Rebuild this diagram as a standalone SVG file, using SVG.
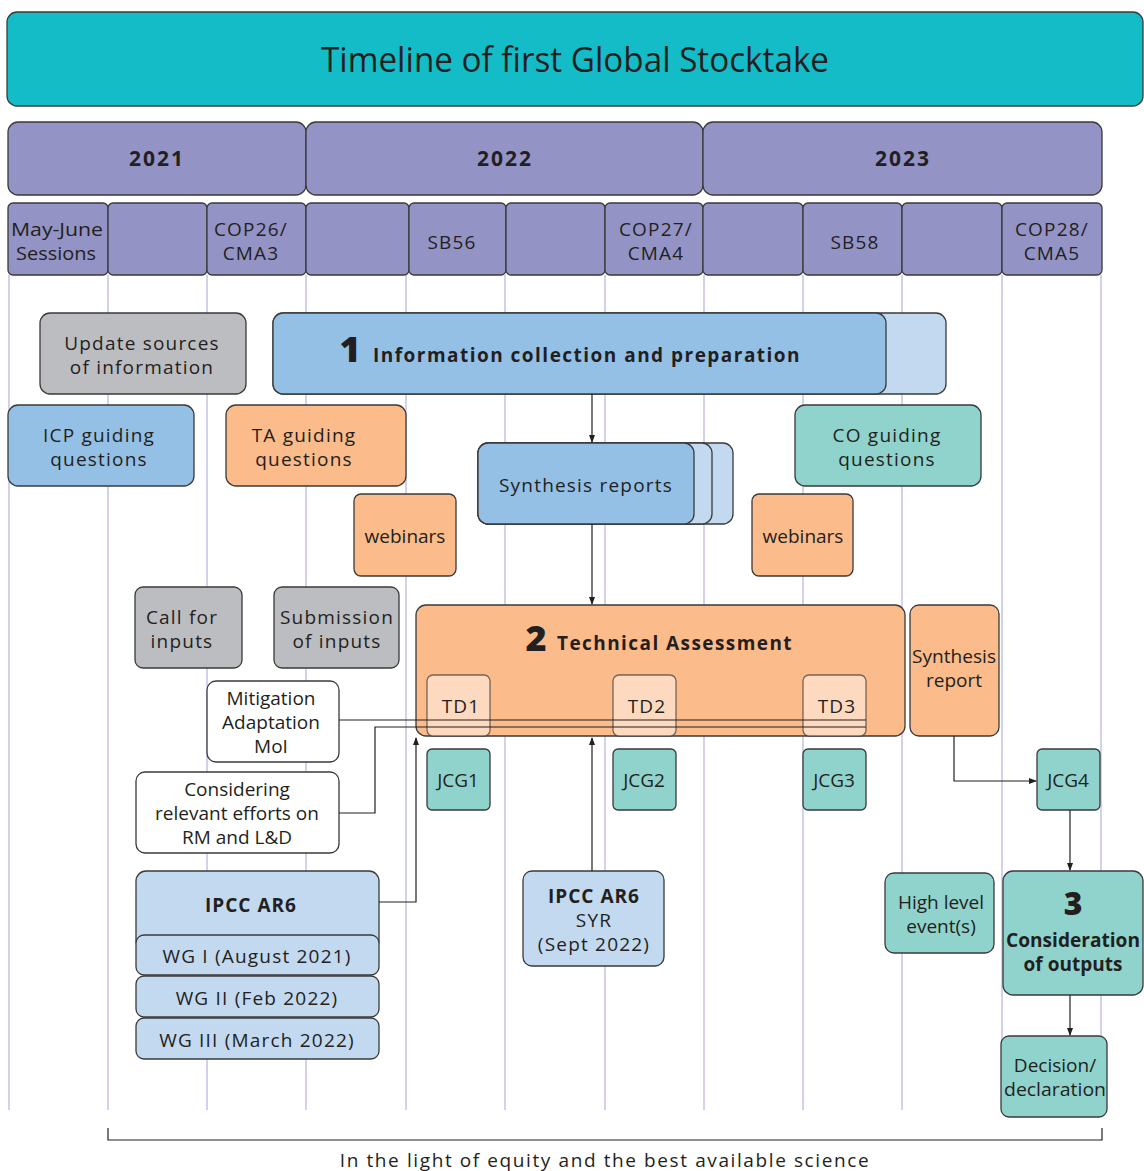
<svg xmlns="http://www.w3.org/2000/svg" width="1144" height="1171" viewBox="0 0 1144 1171">
<defs>
<marker id="ah" markerWidth="8" markerHeight="8" refX="7" refY="4" orient="auto" markerUnits="userSpaceOnUse">
<path d="M0,1 L8,4 L0,7 Z" fill="#231f20"/>
</marker>
<style>
.b{stroke:#3a3a3a;stroke-width:1.3}
.title{fill:#14bcc8}
.yr{fill:#9393c6}
.gray{fill:#bcbdc0}
.blue{fill:#94c0e6}
.lblue{fill:#c2d9f0}
.orange{fill:#fbbb8a}
.lorange{fill:#fddabf}
.teal{fill:#8fd3cc}
.white{fill:#ffffff}
.grid{stroke:#b4b4de;stroke-width:1.2}
text{font-family:"Open Sans","Noto Sans",sans-serif;fill:#231f20;text-anchor:middle}
.t19{font-size:19px;letter-spacing:1.2px}
.t19n{font-size:19px}
.yrt{font-size:21px;font-weight:bold;letter-spacing:2px}
.bold{font-weight:bold}
.con{stroke:#231f20;stroke-width:1.2;fill:none}
</style>
</defs>

<!-- grid lines -->
<g id="grid">
<line class="grid" x1="9" y1="275" x2="9" y2="1110"/>
<line class="grid" x1="108" y1="275" x2="108" y2="1110"/>
<line class="grid" x1="207" y1="275" x2="207" y2="1110"/>
<line class="grid" x1="306" y1="275" x2="306" y2="1110"/>
<line class="grid" x1="406" y1="275" x2="406" y2="1110"/>
<line class="grid" x1="505" y1="275" x2="505" y2="1110"/>
<line class="grid" x1="605" y1="275" x2="605" y2="1110"/>
<line class="grid" x1="704" y1="275" x2="704" y2="1110"/>
<line class="grid" x1="803" y1="275" x2="803" y2="1110"/>
<line class="grid" x1="902" y1="275" x2="902" y2="1110"/>
<line class="grid" x1="1002" y1="275" x2="1002" y2="1110"/>
<line class="grid" x1="1101" y1="275" x2="1101" y2="1110"/>
</g>

<g id="title">
<rect class="title b" x="7" y="12" width="1136" height="94" rx="10"/>
<text x="575" y="72" style="font-size:35px" textLength="508" lengthAdjust="spacingAndGlyphs">Timeline of first Global Stocktake</text>
</g>

<g id="years">
<rect class="yr b" x="8" y="122" width="298" height="73" rx="10"/>
<rect class="yr b" x="306" y="122" width="397" height="73" rx="10"/>
<rect class="yr b" x="703" y="122" width="399" height="73" rx="10"/>
<text class="yrt" x="157" y="166">2021</text>
<text class="yrt" x="505" y="166">2022</text>
<text class="yrt" x="903" y="166">2023</text>
</g>

<g id="months">
<rect class="yr b" x="8" y="203" width="100" height="72" rx="5"/>
<rect class="yr b" x="108" y="203" width="99" height="72" rx="5"/>
<rect class="yr b" x="207" y="203" width="99" height="72" rx="5"/>
<rect class="yr b" x="306" y="203" width="103" height="72" rx="5"/>
<rect class="yr b" x="409" y="203" width="97" height="72" rx="5"/>
<rect class="yr b" x="506" y="203" width="99" height="72" rx="5"/>
<rect class="yr b" x="605" y="203" width="98" height="72" rx="5"/>
<rect class="yr b" x="703" y="203" width="100" height="72" rx="5"/>
<rect class="yr b" x="803" y="203" width="99" height="72" rx="5"/>
<rect class="yr b" x="902" y="203" width="100" height="72" rx="5"/>
<rect class="yr b" x="1002" y="203" width="100" height="72" rx="5"/>
<text class="t19n" x="57" y="236" textLength="92" lengthAdjust="spacingAndGlyphs">May-June</text>
<text class="t19n" x="56" y="260" textLength="80" lengthAdjust="spacingAndGlyphs">Sessions</text>
<text class="t19" x="251" y="236">COP26/</text>
<text class="t19" x="251" y="260">CMA3</text>
<text class="t19" x="452" y="249">SB56</text>
<text class="t19" x="656" y="236">COP27/</text>
<text class="t19" x="656" y="260">CMA4</text>
<text class="t19" x="855" y="249">SB58</text>
<text class="t19" x="1052" y="236">COP28/</text>
<text class="t19" x="1052" y="260">CMA5</text>
</g>

<g id="update-sources">
<rect class="gray b" x="40" y="313" width="206" height="81" rx="10"/>
<text class="t19" x="142" y="350">Update sources</text>
<text class="t19" x="142" y="374">of information</text>
</g>

<g id="info-collection">
<rect class="lblue b" x="273" y="313" width="673" height="81" rx="10"/>
<rect class="blue b" x="273" y="313" width="613" height="81" rx="10"/>
<text x="350" y="362" style="font-size:36px;font-weight:900">1</text>
<text x="587" y="362" class="bold" style="font-size:19px;letter-spacing:1.4px" textLength="428" lengthAdjust="spacing">Information collection and preparation</text>
</g>

<g id="icp-guiding">
<rect class="blue b" x="8" y="405" width="186" height="81" rx="10"/>
<text class="t19" x="99" y="442">ICP guiding</text>
<text class="t19" x="99" y="466">questions</text>
</g>

<g id="ta-guiding">
<rect class="orange b" x="226" y="405" width="180" height="81" rx="10"/>
<text class="t19" x="304" y="442">TA guiding</text>
<text class="t19" x="304" y="466">questions</text>
</g>

<g id="co-guiding">
<rect class="teal b" x="795" y="405" width="186" height="81" rx="10"/>
<text class="t19" x="887" y="442">CO guiding</text>
<text class="t19" x="887" y="466">questions</text>
</g>

<g id="synthesis-reports">
<rect class="lblue b" x="478" y="443" width="255" height="81" rx="10"/>
<rect class="lblue b" x="478" y="443" width="234" height="81" rx="10"/>
<rect class="blue b" x="478" y="443" width="216" height="81" rx="10"/>
<text class="t19" x="586" y="492">Synthesis reports</text>
</g>

<g id="webinars-1">
<rect class="orange b" x="354" y="494" width="102" height="82" rx="7"/>
<text class="t19n" x="405" y="543">webinars</text>
</g>

<g id="webinars-2">
<rect class="orange b" x="752" y="494" width="101" height="82" rx="7"/>
<text class="t19n" x="803" y="543">webinars</text>
</g>

<g id="call-for-inputs">
<rect class="gray b" x="135" y="587" width="107" height="81" rx="8"/>
<text class="t19" x="182" y="624">Call for</text>
<text class="t19" x="182" y="648">inputs</text>
</g>

<g id="submission-of-inputs">
<rect class="gray b" x="274" y="587" width="125" height="81" rx="8"/>
<text class="t19" x="337" y="624">Submission</text>
<text class="t19" x="337" y="648">of inputs</text>
</g>

<g id="technical-assessment">
<rect class="orange b" x="416" y="605" width="489" height="131" rx="10"/>
<text x="536" y="651" style="font-size:36px;font-weight:900">2</text>
<text x="675" y="650" class="bold" style="font-size:19px;letter-spacing:1.4px" textLength="236" lengthAdjust="spacing">Technical Assessment</text>
</g>

<g id="td1">
<rect class="lorange b" x="427" y="675" width="63" height="61" rx="6" stroke-opacity="0.7"/>
<text class="t19" x="461" y="713">TD1</text>
</g>
<g id="td2">
<rect class="lorange b" x="613" y="675" width="63" height="61" rx="6" stroke-opacity="0.7"/>
<text class="t19" x="647" y="713">TD2</text>
</g>
<g id="td3">
<rect class="lorange b" x="803" y="675" width="63" height="61" rx="6" stroke-opacity="0.7"/>
<text class="t19" x="837" y="713">TD3</text>
</g>

<g id="synthesis-report">
<rect class="orange b" x="910" y="605" width="89" height="131" rx="9"/>
<text class="t19n" x="954" y="663" textLength="84" lengthAdjust="spacingAndGlyphs">Synthesis</text>
<text class="t19n" x="954" y="687">report</text>
</g>

<g id="mitigation">
<rect class="white b" x="207" y="681" width="132" height="81" rx="9"/>
<text class="t19n" x="271" y="705">Mitigation</text>
<text class="t19n" x="271" y="729">Adaptation</text>
<text class="t19n" x="271" y="753">MoI</text>
</g>

<g id="considering">
<rect class="white b" x="136" y="772" width="203" height="81" rx="9"/>
<text class="t19n" x="237" y="796">Considering</text>
<text class="t19n" x="237" y="820">relevant efforts on</text>
<text class="t19n" x="237" y="844">RM and L&amp;D</text>
</g>

<g id="jcg1">
<rect class="teal b" x="427" y="749" width="63" height="61" rx="5"/>
<text class="t19n" x="458" y="787">JCG1</text>
</g>
<g id="jcg2">
<rect class="teal b" x="613" y="749" width="63" height="61" rx="5"/>
<text class="t19n" x="644" y="787">JCG2</text>
</g>
<g id="jcg3">
<rect class="teal b" x="803" y="749" width="63" height="61" rx="5"/>
<text class="t19n" x="834" y="787">JCG3</text>
</g>
<g id="jcg4">
<rect class="teal b" x="1037" y="749" width="63" height="61" rx="5"/>
<text class="t19n" x="1068" y="787">JCG4</text>
</g>

<g id="ipcc-ar6">
<rect class="lblue b" x="136" y="871" width="243" height="80" rx="10"/>
<text x="251" y="912" class="bold" style="font-size:19px;letter-spacing:1px">IPCC AR6</text>
<rect class="lblue b" x="136" y="935" width="243" height="40" rx="8"/>
<text class="t19" x="257" y="963">WG I (August 2021)</text>
<rect class="lblue b" x="136" y="976" width="243" height="41" rx="8"/>
<text class="t19" x="257" y="1005">WG II (Feb 2022)</text>
<rect class="lblue b" x="136" y="1018" width="243" height="41" rx="8"/>
<text class="t19" x="257" y="1047">WG III (March 2022)</text>
</g>

<g id="ipcc-syr">
<rect class="lblue b" x="523" y="871" width="141" height="95" rx="9"/>
<text x="594" y="903" class="bold" style="font-size:19px;letter-spacing:1px">IPCC AR6</text>
<text class="t19" x="594" y="927">SYR</text>
<text class="t19" x="594" y="951">(Sept 2022)</text>
</g>

<g id="high-level">
<rect class="teal b" x="885" y="873" width="109" height="80" rx="9"/>
<text class="t19n" x="941" y="909">High level</text>
<text class="t19n" x="941" y="933">event(s)</text>
</g>

<g id="consideration">
<rect class="teal b" x="1003" y="871" width="140" height="124" rx="10"/>
<text x="1073" y="915" style="font-size:32px;font-weight:900">3</text>
<text x="1073" y="947" class="bold" style="font-size:19px" textLength="134" lengthAdjust="spacingAndGlyphs">Consideration</text>
<text x="1073" y="971" class="bold" style="font-size:19px">of outputs</text>
</g>

<g id="decision">
<rect class="teal b" x="1001" y="1036" width="106" height="81" rx="8"/>
<text class="t19n" x="1055" y="1072">Decision/</text>
<text class="t19n" x="1055" y="1096" textLength="102" lengthAdjust="spacingAndGlyphs">declaration</text>
</g>

<g id="connectors">
<line class="con" x1="592" y1="394" x2="592" y2="442" marker-end="url(#ah)"/>
<line class="con" x1="592" y1="524" x2="592" y2="604" marker-end="url(#ah)"/>
<polyline class="con" points="339,720 866,720"/>
<polyline class="con" points="339,813 375,813 375,727 866,727"/>
<polyline class="con" points="379,902 416,902 416,738" marker-end="url(#ah)"/>
<line class="con" x1="592" y1="871" x2="592" y2="738" marker-end="url(#ah)"/>
<polyline class="con" points="954,736 954,781 1036,781" marker-end="url(#ah)"/>
<line class="con" x1="1070" y1="810" x2="1070" y2="870" marker-end="url(#ah)"/>
<line class="con" x1="1070" y1="995" x2="1070" y2="1035" marker-end="url(#ah)"/>
</g>

<g id="bracket">
<polyline class="con" points="108,1128 108,1140 1102,1140 1102,1128"/>
<text x="605" y="1167" style="font-size:19px;letter-spacing:1.6px">In the light of equity and the best available science</text>
</g>
</svg>
